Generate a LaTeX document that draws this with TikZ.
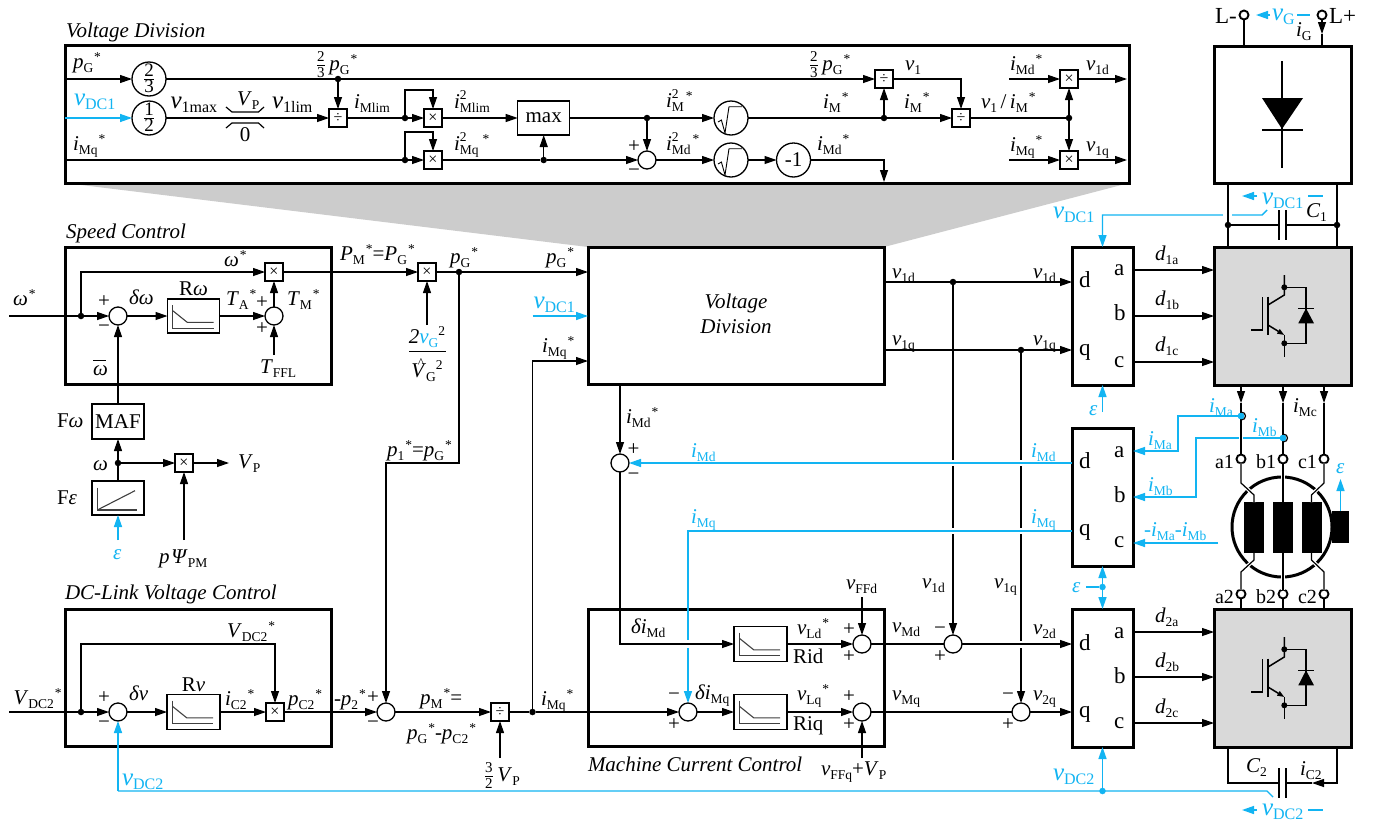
\documentclass[tikz,border=0pt]{standalone}
\usepackage{fontspec}
\setmainfont{Liberation Serif}
\usetikzlibrary{arrows.meta,calc}
\definecolor{myblue}{HTML}{12B4F2}
\newcommand\mainsz{\fontsize{21}{25}\selectfont}
\newcommand\subsz{\fontsize{13.5}{14}\selectfont}
\newcommand\Iv[1]{\textit{#1}}
\newcommand\Sb[1]{\raisebox{-4pt}{\subsz #1}}
\newcommand\Ss[1]{\raisebox{8pt}{\subsz #1}}
\newcommand\St{\kern1pt\raisebox{7pt}{\subsz *}}
\newcommand\SbSp[2]{\rlap{\raisebox{9pt}{\subsz #2}}\Sb{#1}}
\newcommand\Vb[1]{{\fontsize{25}{25}\selectfont\textit{v}}\raisebox{-4pt}{\fontsize{16}{16}\selectfont #1}}
\newcommand\FrS[2]{$\frac{\hbox{\fontsize{15}{15}\selectfont #1}}{\hbox{\fontsize{15}{15}\selectfont #2}}$}
\newcommand\FrB[2]{\smash{\raisebox{-5.2pt}{$\frac{\hbox{\fontsize{19}{19}\selectfont #1}}{\hbox{\fontsize{19}{19}\selectfont #2}}$}}}
\newcommand\OmBar{\rlap{\raisebox{14pt}{\rule{13pt}{0.8pt}}}\Iv{ω}}
\newcommand\piIcon[1]{%
  \draw[icon] ([shift={(5.3,6)}]#1.north west) -- ([shift={(5.3,29.3)}]#1.north west) -- ([shift={(46,29.3)}]#1.north west);
  \draw[icon] ([shift={(5.3,11.7)}]#1.north west) -- ([shift={(19.7,23.3)}]#1.north west) -- ([shift={(46,23.3)}]#1.north west);}
\newcommand\rootSign[1]{%
  \draw[line width=0.9pt] ([shift={(-13,4)}]#1.center) -- ([shift={(-9.6,2)}]#1.center) -- ([shift={(-6,15)}]#1.center) -- ([shift={(-2,-11.3)}]#1.center) -- ([shift={(11,-11.3)}]#1.center);}
\newcommand\igbt[1]{%
  \begin{scope}[yshift=#1]
  \draw[sym] (1284.3,275) -- (1284.3,295) -- (1268,305);
  \draw[sym] (1251,330) -- (1262.7,330) -- (1262.7,296.7);
  \draw[sym] (1268,296.7) -- (1268,335);
  \draw[sym,-{Triangle[length=7pt,width=5pt]}] (1268,325) -- (1284.3,335);
  \draw[sym] (1284.3,335) -- (1284.3,356.7);
  \draw[sym] (1284.3,287.3) -- (1306,287.3) -- (1306,343.3) -- (1284.3,343.3);
  \fill (1284.3,287.3) circle[radius=3pt];
  \fill (1284.3,343.3) circle[radius=3pt];
  \fill (1298.3,323.3) -- (1314,323.3) -- (1306,308.3) -- cycle;
  \draw[sym] (1298.3,308.3) -- (1314,308.3);
  \end{scope}}
\tikzset{
  lb/.style={inner sep=0pt,outer sep=0pt,anchor=base west},
  lbb/.style={lb,text=myblue},
  sgn/.style={inner sep=0pt,outer sep=0pt,anchor=center},
  ln/.style={line width=1.2pt},
  arr/.style={line width=1.2pt,-{Triangle[length=12pt,width=8pt]}},
  blw/.style={line width=1.4pt,draw=myblue},
  arrb/.style={line width=1.4pt,draw=myblue,-{Triangle[length=12pt,width=8pt]}},
  tbox/.style={draw,line width=3pt,inner sep=0pt,outer sep=0pt,fill=white,rectangle},
  sbox/.style={draw,line width=1.3pt,inner sep=0pt,outer sep=0pt,fill=white,rectangle},
  oper/.style={sbox,minimum width=18pt,minimum height=18pt,font=\fontsize{16}{16}\selectfont},
  gain/.style={draw,circle,line width=1.3pt,inner sep=0pt,outer sep=0pt,minimum size=34pt,fill=white},
  sumc/.style={draw,circle,line width=1.3pt,inner sep=0pt,outer sep=0pt,minimum size=18pt,fill=white},
  dot/.style={circle,fill=black,inner sep=0pt,outer sep=0pt,minimum size=6.5pt},
  dotb/.style={circle,fill=myblue,inner sep=0pt,outer sep=0pt,minimum size=6.5pt},
  term/.style={draw,circle,line width=1.9pt,fill=white,inner sep=0pt,outer sep=0pt,minimum size=9pt},
  blk/.style={rectangle,fill=black,inner sep=0pt,outer sep=0pt},
  icon/.style={line width=1.1pt,draw=black!75},
  sym/.style={line width=1.5pt},
  erase/.style={draw=white,line width=3.5pt},
  dqtxt/.style={inner sep=0pt,outer sep=0pt,anchor=base west,font=\fontsize{23}{25}\selectfont},
  phase/.style={inner sep=0pt,outer sep=0pt,anchor=base west,font=\fontsize{20}{22}\selectfont},
  hal/.style={preaction={draw=white,line width=3.5pt}},
}
\begin{document}
\begin{tikzpicture}[x=1pt,y=-1pt,font=\mainsz,line width=1.2pt]
\fill[white] (0,0) rectangle (1379,825);
\useasboundingbox (0,0) rectangle (1379,825);
% zoom wedge
\fill[black!20] (65,183) -- (1129,183) -- (884,247) -- (588,247) -- cycle;

% ---------- big boxes
\node[tbox,minimum width=1064pt,minimum height=138pt] (VDZ) at (597,114) {};
\node[tbox,minimum width=266pt,minimum height=137pt] (SPB) at (198,315.5) {};
\node[tbox,minimum width=266pt,minimum height=137pt] (DCB) at (198,677.5) {};
\node[tbox,minimum width=296pt,minimum height=137pt] (VDB) at (736,315.5) {};
\node[tbox,minimum width=296pt,minimum height=137pt] (MCB) at (736,677.5) {};
\node[tbox,minimum width=61pt,minimum height=138pt] (dq1) at (1102.5,316) {};
\node[tbox,minimum width=61pt,minimum height=138pt] (dq2) at (1102.5,497) {};
\node[tbox,minimum width=61pt,minimum height=138pt] (dq3) at (1102.5,678) {};
\node[tbox,minimum width=137pt,minimum height=137pt] (RB) at (1282.5,114.5) {};
\node[tbox,fill=black!15,minimum width=137pt,minimum height=138pt] (IG1) at (1282.5,316) {};
\node[tbox,fill=black!15,minimum width=137pt,minimum height=138pt] (IG2) at (1282.5,678) {};

% ---------- Voltage division detail: blocks
\node[gain] (g23) at (149,79) {\FrB{2}{3}};
\node[gain] (g12) at (149,118) {\FrB{1}{2}};
\node[oper] (d1) at (338,118) {÷};
\node[oper] (d2) at (884,79) {÷};
\node[oper] (d3) at (961,118) {÷};
\node[oper] (m1) at (433,118) {×};
\node[oper] (m2) at (433,160) {×};
\node[oper] (m3) at (1069,79) {×};
\node[oper] (m4) at (1069,160) {×};
\node[sbox,minimum width=52pt,minimum height=34pt] (mx) at (543.7,118) {max};
\node[sumc] (s1) at (647,160) {};
\node[gain] (rt1) at (731,118) {};
\node[gain] (rt2) at (731,160) {};
\rootSign{rt1}
\rootSign{rt2}
\node[gain] (neg) at (793.5,160) {-1};
\node[dot] (j1) at (338,79) {};
\node[dot] (j2) at (405,118) {};
\node[dot] (j3) at (405,160) {};
\node[dot] (j4) at (543.7,160) {};
\node[dot] (j5) at (647,118) {};
\node[dot] (j6) at (884,118) {};
\node[dot] (j7) at (1069,118) {};
\coordinate (in1) at (65,79);
\coordinate (in2) at (65,118);
\coordinate (in3) at (65,160);
\coordinate (lp1) at (433,90);
\coordinate (lp2) at (433,132);
\coordinate (vdbot) at (884,182);
\coordinate (imd1) at (1009,79);
\coordinate (imq1) at (1009,160);
\coordinate (o1) at (1127,79);
\coordinate (o2) at (1127,160);
\draw[arr] (in1) -- (g23);
\draw (g23) -- (j1);
\draw[arr] (j1) -- (d2);
\draw[arr] (j1) -- (d1);
\draw[arrb] (in2) -- (g12);
\draw[arr] (g12) -- (d1);
\draw (226,107) -- (232,112) -- (258.5,112) -- (264,107);
\draw (226,128) -- (232,123) -- (258.5,123) -- (264,128);
\draw (d1) -- (j2);
\draw[arr] (j2) -- (m1);
\draw[arr] (j2) |- (lp1) -- (m1);
\draw (in3) -- (j3);
\draw[arr] (j3) -- (m2);
\draw[arr] (j3) |- (lp2) -- (m2);
\draw[arr] (m1) -- (mx);
\draw (m2) -- (j4);
\draw[arr] (j4) -- (s1);
\draw[arr] (j4) -- (mx);
\draw (mx) -- (j5);
\draw[arr] (j5) -- (rt1);
\draw[arr] (j5) -- (s1);
\draw (rt1) -- (j6);
\draw[arr] (j6) -- (d2);
\draw[arr] (j6) -- (d3);
\draw[arr] (d2) -| (d3);
\draw (d3) -- (j7);
\draw[arr] (j7) -- (m3);
\draw[arr] (j7) -- (m4);
\draw[arr] (imd1) -- (m3);
\draw[arr] (imq1) -- (m4);
\draw[arr] (m3) -- (o1);
\draw[arr] (m4) -- (o2);
\draw[arr] (s1) -- (rt2);
\draw[arr] (rt2) -- (neg);
\draw[arr] (neg) -| (vdbot);

% ---------- Speed control blocks
\node[sumc] (ss1) at (118,316) {};
\node[sbox,minimum width=52pt,minimum height=34pt] (pi1) at (193.5,316) {};
\piIcon{pi1}
\node[sumc] (ss2) at (274,316) {};
\node[oper] (mm1) at (274,272) {×};
\node[oper] (mm2) at (427,272) {×};
\node[dot] (js1) at (81,316) {};
\node[dot] (js2) at (459,272) {};
\node[sbox,minimum width=52pt,minimum height=35pt] (MAF) at (118,421.5) {MAF};
\node[sbox,minimum width=52pt,minimum height=34pt] (Fe) at (118,498) {};
\draw[icon] (97.3,487.7) -- (97.3,510) -- (137.3,510);
\draw[icon] (97.3,510) -- (135,490.7);
\node[dot] (jw) at (118,463) {};
\node[oper] (mm3) at (184,463) {×};
\coordinate (win) at (9,316);
\coordinate (tffl) at (274,355);
\coordinate (vpo) at (229,463);
\coordinate (psi) at (184,540);
\coordinate (epsF) at (118,540);
\coordinate (frc) at (427,325);
\coordinate (ppt) at (386,463);
\coordinate (vdc1in) at (532.5,316);
\draw (win) -- (js1);
\draw[arr] (js1) -- (ss1);
\draw[arr] (js1) |- (mm1);
\draw[arr] (ss1) -- (pi1);
\draw[arr] (pi1) -- (ss2);
\draw[arr] (ss2) -- (mm1);
\draw[arr] (tffl) -- (ss2);
\draw[arr] (mm1) -- (mm2);
\draw[arr] (frc) -- (mm2);
\draw (mm2) -- (js2);
\draw[arr] (js2) -- (js2 -| VDB.west);
\draw[arrb] (vdc1in) -- (vdc1in -| VDB.west);
\draw[arr] (MAF) -- (ss1);
\draw (Fe) -- (jw);
\draw[arr] (jw) -- (MAF);
\draw[arr] (jw) -- (mm3);
\draw[arr] (mm3) -- (vpo);
\draw[arr] (psi) -- (mm3);
\draw[arrb] (epsF) -- (Fe);

% ---------- DC-link control
\node[sumc] (ds1) at (118,712) {};
\node[sbox,minimum width=53pt,minimum height=35pt] (pi2) at (193.5,712) {};
\piIcon{pi2}
\node[oper] (mm5) at (275,712) {×};
\node[dot] (jd) at (81,712) {};
\node[sumc] (sm) at (386,712) {};
\node[oper] (dv) at (500,712) {÷};
\node[dot] (jq) at (532.5,712) {};
\coordinate (vin) at (9,712);
\coordinate (cc1) at (275,644);
\coordinate (vp32) at (500,758);
\coordinate (vdq) at (588,361);
\draw (vin) -- (jd);
\draw[arr] (jd) -- (ds1);
\draw[arr] (ds1) -- (pi2);
\draw[arr] (pi2) -- (mm5);
\draw[arr] (jd) |- (cc1) -- (mm5);
\draw[arr] (mm5) -- (sm);
\draw[arr] (sm) -- (dv);
\draw[arr] (vp32) -- (dv);
\draw (dv) -- (jq);
\draw[arr] (jq) |- (vdq);
\draw[arr] (js2) |- (ppt) -- (sm);

% ---------- Machine current control
\node[sumc] (siMd) at (620,463) {};
\node[sumc] (sc) at (688,712) {};
\node[sbox,minimum width=53pt,minimum height=35pt] (pid) at (760.5,644) {};
\piIcon{pid}
\node[sbox,minimum width=53pt,minimum height=35pt] (piq) at (760.5,712) {};
\piIcon{piq}
\node[sumc] (scd) at (862,644) {};
\node[sumc] (scq) at (862,712) {};
\node[sumc] (s2d) at (953,644) {};
\node[sumc] (s2q) at (1021,712) {};
\node[dot] (j1d) at (953,282) {};
\node[dot] (j1q) at (1021,350) {};
\coordinate (vdout) at (620,384);
\coordinate (ffd) at (862,597);
\coordinate (ffq) at (862,758);
\coordinate (bmd) at (1072,463);
\coordinate (bmq) at (1072,531);
% black verticals, cut where the blue feedback crosses
\draw (j1d -| VDB.east) -- (j1d);
\draw[arr] (j1d) -- (j1d -| dq1.west);
\draw (j1q -| VDB.east) -- (j1q);
\draw[arr] (j1q) -- (j1q -| dq1.west);
\draw[arr] (j1d) -- (s2d);
\draw[arr] (j1q) -- (s2q);
\draw[erase] (953,460) -- (953,466);
\draw[erase] (953,528) -- (953,534);
\draw[erase] (1021,460) -- (1021,466);
\draw[erase] (1021,528) -- (1021,534);
\draw[erase] (1021,640.5) -- (1021,647.5);
\draw[arrb] (bmq) -| (sc);
\draw[erase] (688,640) -- (688,648);
\draw[arrb] (bmd) -- (siMd);
\draw[arr] (vdout) -- (siMd);
\draw[arr] (siMd) |- (pid);
\draw[arr] (jq) -- (sc);
\draw[arr] (sc) -- (piq);
\draw[arr] (pid) -- (scd);
\draw[arr] (piq) -- (scq);
\draw[arr] (ffd) -- (scd);
\draw[arr] (ffq) -- (scq);
\draw (scd) -- (s2d);
\draw (scq) -- (s2q);
\draw[arr] (s2d) -- (s2d -| dq3.west);
\draw[arr] (s2q) -- (s2q -| dq3.west);

% ---------- d-lines to converters
\foreach \y in {270,316,362}{\draw[arr] (dq1.east |- 0,\y) -- (IG1.west |- 0,\y);}
\foreach \y in {632,677,723}{\draw[arr] (dq3.east |- 0,\y) -- (IG2.west |- 0,\y);}

% ---------- Grid side
\node[term] (tLm) at (1244,15) {};
\node[term] (tLp) at (1322,15) {};
\coordinate (agp) at (1322,34);
\draw (tLm) -- (tLm |- RB.north);
\draw[arr] (tLp) -- (agp);
\draw (agp) -- (tLp |- RB.north);
\draw[sym] (1282,61) -- (1282,168);
\fill (1262,98) -- (1303,98) -- (1282,129) -- cycle;
\draw[sym] (1262,130) -- (1303,130);
\draw[arrb] (1270,15) -- (1256,15);
\draw[blw] (1297,15) -- (1310,15);

% ---------- DC link 1
\node[dot] (jc1) at (1228,225) {};
\node[dot] (jc2) at (1337,225) {};
\coordinate (pl1) at (1279,225);
\coordinate (pl2) at (1286,225);
\draw[arrb] (1267,210) -- (1262,215) -- (1102.5,215) -- (dq1.north);
\draw[erase] (1223,215) -- (1232,215);
\draw (jc1 |- RB.south) -- (jc1 |- IG1.north);
\draw (jc2 |- RB.south) -- (jc2 |- IG1.north);
\draw (jc1) -- (pl1);
\draw (jc2) -- (pl2);
\draw[sym] (1279,210) -- (1279,240);
\draw[sym] (1286,210) -- (1286,240);
\draw[arrb] (1257,196) -- (1242,196);
\draw[blw] (1308,196) -- (1323,196);

\igbt{0pt}
\igbt{-362pt}

% ---------- Machine
\node[draw,circle,line width=3pt,inner sep=0pt,outer sep=0pt,minimum size=100pt,fill=white] (mot) at (1282,527) {};
\node[blk,minimum width=20pt,minimum height=51pt] (w1) at (1254,527.5) {};
\node[blk,minimum width=20pt,minimum height=51pt] (w2) at (1283,527.5) {};
\node[blk,minimum width=20pt,minimum height=51pt] (w3) at (1311.5,527.5) {};
\node[blk,minimum width=17pt,minimum height=32pt] (shaft) at (1340.5,527) {};
\node[term] (ta1) at (1241,459) {};
\node[term] (tb1) at (1283,459) {};
\node[term] (tc1) at (1324,459) {};
\node[term] (ta2) at (1241,594) {};
\node[term] (tb2) at (1283,594) {};
\node[term] (tc2) at (1324,594) {};
\coordinate (pa1) at (1241,483);
\coordinate (pa2) at (1254,495);
\coordinate (pc1) at (1324,483);
\coordinate (pc2) at (1311.5,495);
\coordinate (qa1) at (1254,560);
\coordinate (qa2) at (1241,572);
\coordinate (qc1) at (1311.5,560);
\coordinate (qc2) at (1324,572);
\coordinate (ao) at (1241,385);
\coordinate (at) at (1241,403);
\coordinate (bo) at (1283,385);
\coordinate (bt) at (1283,403);
\coordinate (co) at (1324,385);
\coordinate (ct) at (1324,403);
\node[dotb] (sa) at (1241,416) {};
\node[dotb] (sb) at (1283,438) {};
\coordinate (ca) at (1178,451);
\coordinate (cb) at (1196,497);
\coordinate (cc) at (1218,543);
\draw[arrb] (sa) -| (ca) -- (ca -| dq2.east);
\draw[arrb] (sb) -| (cb) -- (cb -| dq2.east);
\draw[arrb] (cc) -- (cc -| dq2.east);
\draw[erase] (1241,434) -- (1241,442);
\draw[arr] (ao) -- (at);
\draw (at) -- (ta1);
\draw[arr] (bo) -- (bt);
\draw (bt) -- (tb1);
\draw[arr] (co) -- (ct);
\draw (ct) -- (tc1);
\draw (1241,412) .. controls (1247,412) and (1247,420) .. (1241,420);
\draw (1283,434) .. controls (1289,434) and (1289,442) .. (1283,442);
\node[dotb] (sa2) at (1241,416) {};
\node[dotb] (sb2) at (1283,438) {};
\draw[hal] (ta1) -- (pa1) -- (pa2) -- (w1.north);
\draw[hal] (tb1) -- (w2.north);
\draw[hal] (tc1) -- (pc1) -- (pc2) -- (w3.north);
\draw[hal] (ta2) -- (qa2) -- (qa1) -- (w1.south);
\draw[hal] (tb2) -- (w2.south);
\draw[hal] (tc2) -- (qc2) -- (qc1) -- (w3.south);
\draw (ta2) -- (ta2 |- IG2.north);
\draw (tb2) -- (tb2 |- IG2.north);
\draw (tc2) -- (tc2 |- IG2.north);
\coordinate (eT) at (1340.5,479);
\draw[arrb] (shaft.north) -- (eT);

% epsilon wires
\node[dotb] (jdq) at (1102.5,587) {};
\coordinate (ce) at (1086,587);
\coordinate (ceb) at (1102.5,412);
\draw[blw] (ce) -- (jdq);
\draw[arrb] (jdq) -- (dq2);
\draw[arrb] (jdq) -- (dq3);
\draw[arrb] (ceb) -- (dq1);

% DC link 2
\node[dotb] (jv) at (1102.5,791) {};
\coordinate (bl) at (118,791);
\coordinate (br) at (1267,791);
\coordinate (be) at (1273,797);
\draw[blw] (be) -- (br) -- (bl);
\draw[arrb] (bl) -- (ds1);
\draw[arrb] (jv) -- (dq3);
\coordinate (cl) at (1228,783);
\coordinate (crr) at (1337,783);
\coordinate (tipC) at (1312,783);
\coordinate (pl3) at (1279,783);
\coordinate (pl4) at (1286,783);
\draw (cl |- IG2.south) -- (cl) -- (pl3);
\draw[arr] (crr |- IG2.south) -- (crr) -- (tipC);
\draw (tipC) -- (pl4);
\draw[sym] (1279,768) -- (1279,798);
\draw[sym] (1286,768) -- (1286,798);
\draw[arrb] (1257,810) -- (1242,810);
\draw[blw] (1308,810) -- (1323,810);

% ---------- titles
\node[lb] (tt1) at (66,37) {\itshape Voltage Division};
\node[lb] (tt2) at (66,238) {\itshape Speed Control};
\node[lb] (tt3) at (65,599) {\itshape DC-Link Voltage Control};
\node[lb] (tt4) at (588,771) {\itshape Machine Current Control};
\node[sgn,anchor=base] (tt5) at (736,308) {\itshape Voltage};
\node[sgn,anchor=base] (tt6) at (736,333) {\itshape Division};

% ---------- labels: voltage division detail
\node[lb] (a1) at (73,68) {\Iv{p}\Sb{G}\St};
\node[lbb] (a2) at (74,105) {\Vb{DC1}};
\node[lb] (a3) at (170.5,108) {\Vb{1max}};
\node[lb] (a4) at (237,105) {\Iv{V}\Sb{P}};
\node[sgn,anchor=base] (a5) at (245,141) {0};
\node[lb] (a6) at (272,108) {\Vb{1lim}};
\node[lb] (a7) at (354,108) {\Iv{i}\Sb{Mlim}};
\node[lb] (a8) at (316,70) {\FrS{2}{3}\,\Iv{p}\Sb{G}\St};
\node[lb] (a9) at (454,108) {\Iv{i}\SbSp{Mlim}{2}};
\node[lb] (a10) at (454,150) {\Iv{i}\SbSp{Mq}{2}\kern3pt\St};
\node[lb] (a11) at (73,150) {\Iv{i}\Sb{Mq}\St};
\node[lb] (a12) at (666,107) {\Iv{i}\SbSp{M}{2}\kern1pt\St};
\node[lb] (a13) at (666,150) {\Iv{i}\SbSp{Md}{2}\kern1pt\St};
\node[lb] (a14) at (817,150) {\Iv{i}\Sb{Md}\St};
\node[lb] (a15) at (809,70) {\FrS{2}{3}\,\Iv{p}\Sb{G}\St};
\node[lb] (a16) at (823,108) {\Iv{i}\Sb{M}\St};
\node[lb] (a17) at (904,108) {\Iv{i}\Sb{M}\St};
\node[lb] (a18) at (905,70) {\Iv{v}\Sb{1}};
\node[lb] (a19) at (981,108) {\Iv{v}\Sb{1}\,/\,\Iv{i}\Sb{M}\St};
\node[lb] (a20) at (1010,70) {\Iv{i}\Sb{Md}\St};
\node[lb] (a21) at (1010,151) {\Iv{i}\Sb{Mq}\St};
\node[lb] (a22) at (1086,70) {\Iv{v}\Sb{1d}};
\node[lb] (a23) at (1086,151) {\Iv{v}\Sb{1q}};
\node[sgn] (a24) at (634,147) {+};
\node[sgn] (a25) at (634,173) {−};

% ---------- labels: speed
\node[lb] (b1) at (13,305) {\Iv{ω}\St};
\node[lb] (b2) at (224,266) {\Iv{ω}\St};
\node[sgn] (b3) at (104,302) {+};
\node[sgn] (b4) at (104,329) {−};
\node[lb] (b5) at (129,304) {\Iv{δω}};
\node[sgn,anchor=base] (b6) at (193.5,295) {R\Iv{ω}};
\node[lb] (b7) at (226,305) {\Iv{T}\Sb{A}\St};
\node[sgn] (b8) at (262,303) {+};
\node[sgn] (b9) at (262,329) {+};
\node[lb] (b10) at (287,305) {\Iv{T}\Sb{M}\St};
\node[lb] (b11) at (260,373) {\Iv{T}\Sb{FFL}};
\node[lb] (b12) at (93,375) {\OmBar};
\node[lb] (b13) at (57,427) {F\Iv{ω}};
\node[lb] (b14) at (57,504) {F\Iv{ε}};
\node[lb] (b15) at (93,470) {\Iv{ω}};
\node[lb] (b16) at (238,468) {\Iv{V}\Sb{P}};
\node[lb] (b17) at (159,563) {\Iv{p}\kern2pt\Iv{Ψ}\Sb{PM}};
\node[lbb] (b18) at (113,559) {\Iv{ε}};
\node[lb] (b19) at (340,260) {\Iv{P}\Sb{M}\St=\Iv{P}\Sb{G}\St};
\node[lb] (b20) at (450,263) {\Iv{p}\Sb{G}\St};
\node[sgn,anchor=base] (b21) at (427,343) {\Iv{2}\textcolor{myblue}{\Iv{v}\Sb{G}}\Ss{2}};
\draw[line width=0.9pt] (409,351) -- (446,351);
\node[sgn,anchor=base] (b22) at (427,377) {\Iv{V}\llap{\smash{\raisebox{10pt}{\subsz\^{}\kern2pt}}}\Sb{G}\Ss{2}};
\node[lb] (b23) at (387,456) {\Iv{p}\Sb{1}\St=\Iv{p}\Sb{G}\St};

% ---------- labels: DC link
\node[lb] (c1) at (13.5,704) {\Iv{V}\Sb{DC2}\St};
\node[lb] (c2) at (227,637) {\Iv{V}\Sb{DC2}\St};
\node[sgn] (c3) at (104,698) {+};
\node[sgn] (c4) at (104,725) {−};
\node[lb] (c5) at (129,700) {\Iv{δv}};
\node[sgn,anchor=base] (c6) at (193.5,691) {R\Iv{v}};
\node[lb] (c7) at (225,705) {\Iv{i}\Sb{C2}\St};
\node[lb] (c8) at (288,705) {\Iv{p}\Sb{C2}\St};
\node[lb] (c9) at (334,705) {-\Iv{p}\Sb{2}\St};
\node[sgn] (c10) at (373,698) {+};
\node[sgn] (c11) at (373,725) {−};
\node[lb] (c12) at (420,704) {\Iv{p}\Sb{M}\St=};
\node[lb] (c13) at (407,739) {\Iv{p}\Sb{G}\St-\Iv{p}\Sb{C2}\St};
\node[lb] (c14) at (484,781) {\FrS{3}{2}\,\Iv{V}\Sb{P}};
\node[lbb] (c15) at (122,785) {\Vb{DC2}};

% ---------- labels: machine current control & middle
\node[lb] (e1) at (546,263) {\Iv{p}\Sb{G}\St};
\node[lbb] (e2) at (533.5,308) {\Vb{DC1}};
\node[lb] (e3) at (542,352) {\Iv{i}\Sb{Mq}\St};
\node[lb] (e4) at (541,705) {\Iv{i}\Sb{Mq}\St};
\node[lb] (e5) at (892,278) {\Iv{v}\Sb{1d}};
\node[lb] (e6) at (1033,278) {\Iv{v}\Sb{1d}};
\node[lb] (e7) at (892,345) {\Iv{v}\Sb{1q}};
\node[lb] (e8) at (1033,345) {\Iv{v}\Sb{1q}};
\node[lb] (e9) at (626,423) {\Iv{i}\Sb{Md}\St};
\node[sgn] (e10) at (633.5,450) {+};
\node[sgn] (e11) at (633.5,477) {−};
\node[lbb] (e12) at (691,457) {\Iv{i}\Sb{Md}};
\node[lbb] (e13) at (1031,457) {\Iv{i}\Sb{Md}};
\node[lbb] (e14) at (691,523) {\Iv{i}\Sb{Mq}};
\node[lbb] (e15) at (1031,523) {\Iv{i}\Sb{Mq}};
\node[lb] (e16) at (631,633) {\Iv{δi}\Sb{Md}};
\node[lb] (e17) at (695,699) {\Iv{δi}\Sb{Mq}};
\node[sgn] (e18) at (674,697) {−};
\node[sgn] (e19) at (674,725) {+};
\node[lb] (e20) at (797,634) {\Iv{v}\Sb{Ld}\St};
\node[lb] (e21) at (797,700) {\Iv{v}\Sb{Lq}\St};
\node[lb] (e22) at (793,663) {Rid};
\node[lb] (e23) at (793,730) {Riq};
\node[sgn] (e24) at (849,630) {+};
\node[sgn] (e25) at (849,657) {+};
\node[sgn] (e26) at (849,697) {+};
\node[sgn] (e27) at (849,725) {+};
\node[lb] (e28) at (846,589) {\Iv{v}\Sb{FFd}};
\node[lb] (e29) at (821,775) {\Iv{v}\Sb{FFq}+\Iv{V}\Sb{P}};
\node[lb] (e30) at (892,632) {\Iv{v}\Sb{Md}};
\node[lb] (e31) at (892,700) {\Iv{v}\Sb{Mq}};
\node[sgn] (e32) at (940,631) {−};
\node[sgn] (e33) at (940,657) {+};
\node[sgn] (e34) at (1008,697) {−};
\node[sgn] (e35) at (1008,725) {+};
\node[lb] (e36) at (922,588) {\Iv{v}\Sb{1d}};
\node[lb] (e37) at (994,588) {\Iv{v}\Sb{1q}};
\node[lb] (e38) at (1033,634) {\Iv{v}\Sb{2d}};
\node[lb] (e39) at (1033,700) {\Iv{v}\Sb{2q}};

% ---------- dq blocks
\node[dqtxt] (q1) at (1079,287) {d};
\node[dqtxt] (q2) at (1079,355) {q};
\node[dqtxt] (q3) at (1114,275) {a};
\node[dqtxt] (q4) at (1114,320) {b};
\node[dqtxt] (q5) at (1114,367) {c};
\node[dqtxt] (q6) at (1079,468) {d};
\node[dqtxt] (q7) at (1079,535) {q};
\node[dqtxt] (q8) at (1114,457) {a};
\node[dqtxt] (q9) at (1114,502) {b};
\node[dqtxt] (q10) at (1114,547) {c};
\node[dqtxt] (q11) at (1079,650) {d};
\node[dqtxt] (q12) at (1079,717) {q};
\node[dqtxt] (q13) at (1114,638) {a};
\node[dqtxt] (q14) at (1114,683) {b};
\node[dqtxt] (q15) at (1114,728) {c};

% ---------- labels: power stage
\node[lb] (f1) at (1155,260) {\Iv{d}\Sb{1a}};
\node[lb] (f2) at (1155,305) {\Iv{d}\Sb{1b}};
\node[lb] (f3) at (1155,351) {\Iv{d}\Sb{1c}};
\node[lb] (f4) at (1155,622) {\Iv{d}\Sb{2a}};
\node[lb] (f5) at (1155,667) {\Iv{d}\Sb{2b}};
\node[lb] (f6) at (1155,713) {\Iv{d}\Sb{2c}};
\node[lb,font=\fontsize{23}{25}\selectfont] (f7) at (1215,23) {L-};
\node[lb,font=\fontsize{23}{25}\selectfont] (f8) at (1329,23) {L+};
\node[lbb] (f9) at (1272,20) {\Vb{G}};
\node[lb] (f10) at (1296,36) {\Iv{i}\Sb{G}};
\node[lbb] (f11) at (1262,204) {\Vb{DC1}};
\node[lb] (f12) at (1306,217) {\Iv{C}\Sb{1}};
\node[lbb] (f13) at (1053,218) {\Vb{DC1}};
\node[lbb] (f14) at (1089,415) {\Iv{ε}};
\node[lbb] (f15) at (1209,412) {\Iv{i}\Sb{Ma}};
\node[lb] (f16) at (1293,412) {\Iv{i}\Sb{Mc}};
\node[lbb] (f17) at (1252,432) {\Iv{i}\Sb{Mb}};
\node[lbb] (f18) at (1148,445) {\Iv{i}\Sb{Ma}};
\node[lbb] (f19) at (1148,491) {\Iv{i}\Sb{Mb}};
\node[lbb] (f20) at (1144,536) {-\Iv{i}\Sb{Ma}-\Iv{i}\Sb{Mb}};
\node[phase] (f21) at (1215,468) {a1};
\node[phase] (f22) at (1256,468) {b1};
\node[phase] (f23) at (1298,468) {c1};
\node[phase] (f24) at (1215,603) {a2};
\node[phase] (f25) at (1256,603) {b2};
\node[phase] (f26) at (1298,603) {c2};
\node[lbb] (f27) at (1336,473) {\Iv{ε}};
\node[lbb] (f28) at (1072,592) {\Iv{ε}};
\node[lbb] (f29) at (1053,780) {\Vb{DC2}};
\node[lb] (f30) at (1246,772) {\Iv{C}\Sb{2}};
\node[lb] (f31) at (1300,775) {\Iv{i}\Sb{C2}};
\node[lbb] (f32) at (1262,815) {\Vb{DC2}};
\end{tikzpicture}
\end{document}
